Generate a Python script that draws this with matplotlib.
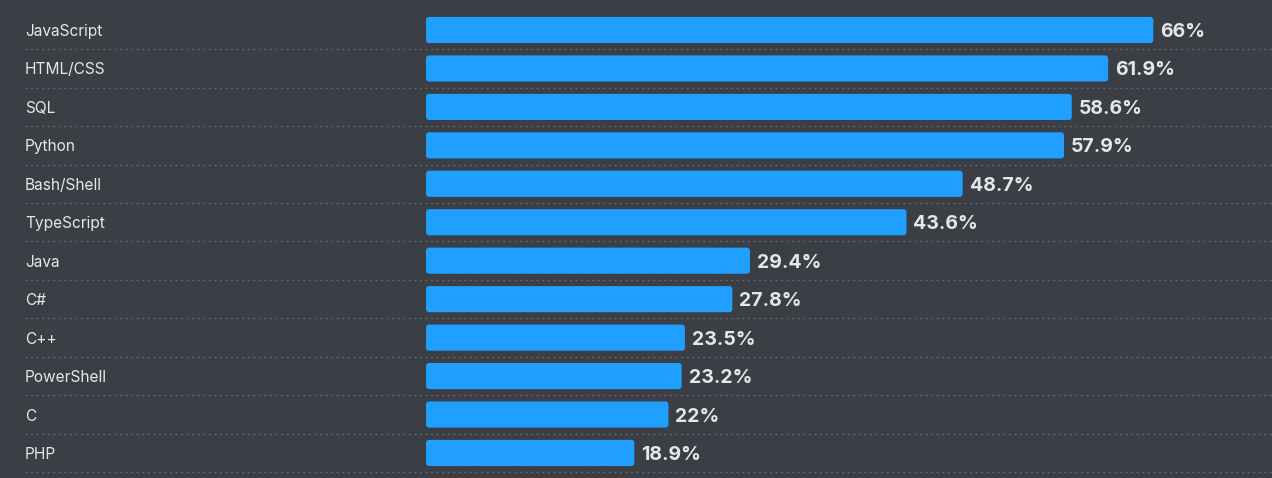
import matplotlib
matplotlib.use("Agg")
import matplotlib.pyplot as plt
from matplotlib.patches import FancyBboxPatch
import matplotlib.transforms as mtransforms

languages = ["JavaScript", "HTML/CSS", "SQL", "Python", "Bash/Shell", "TypeScript",
             "Java", "C#", "C++", "PowerShell", "C", "PHP"]
percent = [66, 61.9, 58.6, 57.9, 48.7, 43.6, 29.4, 27.8, 23.5, 23.2, 22, 18.9]
value_labels = ["66%", "61.9%", "58.6%", "57.9%", "48.7%", "43.6%",
                "29.4%", "27.8%", "23.5%", "23.2%", "22%", "18.9%"]

W, H = 1272, 478
BG = "#3b3e45"
BAR = "#1f9fff"
TXT = "#e6e7e9"

plt.rcParams['font.family'] = ['Inter', 'DejaVu Sans']

fig = plt.figure(figsize=(W / 100, H / 100), dpi=100, facecolor=BG)
ax = fig.add_axes([0, 0, 1, 1], facecolor=BG)

px_per_unit = 11.02
x0_px = 426
ax.set_xlim(-x0_px / px_per_unit, (W - x0_px) / px_per_unit)
row_px = 38.45
top_px = 30
ax.set_ylim((H - top_px) / row_px, -top_px / row_px)
ax.axis("off")

ypos = list(range(len(languages)))
bars = ax.barh(ypos, percent, height=0.68, color=BAR)
ra = (3 / row_px) / (3 / px_per_unit)
for b in bars:
    x, y, w, h = b.get_x(), b.get_y(), b.get_width(), b.get_height()
    b.set_visible(False)
    p = FancyBboxPatch((x, y), w, h,
                       boxstyle="round,pad=0,rounding_size=%f" % (3 / px_per_unit),
                       mutation_aspect=ra, facecolor=BAR, edgecolor="none")
    ax.add_patch(p)

trans = mtransforms.blended_transform_factory(ax.transAxes, ax.transData)
left_frac = 25 / W
for i, (lang, v, lab) in enumerate(zip(languages, percent, value_labels)):
    ax.text(left_frac, i, lang, transform=trans, ha="left", va="center_baseline",
            fontsize=11.1, color=TXT)
    ax.text(v + 7 / px_per_unit, i, lab, ha="left", va="center_baseline",
            fontsize=14, fontweight="bold", color=TXT)
    ax.plot([left_frac, 1], [i + 0.5, i + 0.5], transform=trans,
            color="#63666c", lw=1, ls=(0, (1.5, 2.5)), solid_capstyle="butt")

fig.savefig("out.png", dpi=100, facecolor=BG)
